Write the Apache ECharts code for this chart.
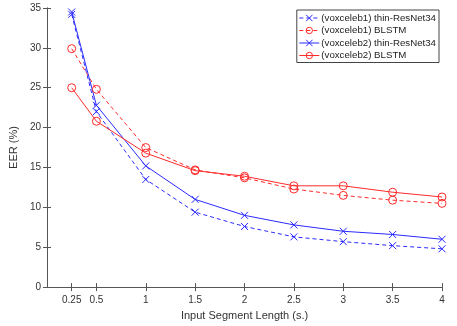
<!DOCTYPE html>
<html><head><meta charset="utf-8">
<script src="https://cdn.jsdelivr.net/npm/echarts@6/dist/echarts.min.js"></script>
<style>html,body{margin:0;padding:0;background:#fff}#c{width:457px;height:326px}</style>
</head><body><div id="c"></div>
<script>
const xValues = [0.25, 0.5, 1, 1.5, 2, 2.5, 3, 3.5, 4];
const xTickLabels = [0.25, 0.5, 1, 1.5, 2, 2.5, 3, 3.5, 4];
const yTicks = [0, 5, 10, 15, 20, 25, 30, 35];
const seriesNames = ['(voxceleb1) thin-ResNet34', '(voxceleb1) BLSTM', '(voxceleb2) thin-ResNet34', '(voxceleb2) BLSTM'];
const vox1Resnet = [34.2, 22.0, 13.5, 9.4, 7.6, 6.3, 5.7, 5.2, 4.8];
const vox1Blstm  = [29.9, 24.8, 17.5, 14.7, 13.7, 12.3, 11.5, 10.9, 10.5];
const vox2Resnet = [34.5, 22.8, 15.2, 11.0, 9.0, 7.8, 7.0, 6.6, 6.0];
const vox2Blstm  = [25.0, 20.8, 16.8, 14.6, 13.9, 12.7, 12.7, 11.9, 11.3];

const BLUE = '#2b2bff', RED = '#ff2b2b';
const CROSS = 'path://M0,0L10,10M10,0L0,10';
const pairs = a => xValues.map((x, i) => [x, a[i]]);
function mk(name, data, color, dashed, cross) {
  return {
    name, type: 'line', data: pairs(data), xAxisIndex: 0, yAxisIndex: 0,
    symbol: cross ? CROSS : 'circle', symbolSize: cross ? 7 : 8,
    lineStyle: { color, width: 1, type: dashed ? [4, 3] : 'solid' },
    itemStyle: { color: 'rgba(0,0,0,0)', borderColor: color, borderWidth: 1 },
    emphasis: { disabled: true }, animation: false
  };
}
const font = 'Liberation Sans, Arial, sans-serif';
const chart = echarts.init(document.getElementById('c'), null, { renderer: 'canvas' });
chart.setOption({
  backgroundColor: '#fff',
  animation: false,
  grid: { left: 34, right: 15, top: 8, bottom: 32 },
  legend: {
    data: seriesNames, orient: 'vertical', right: 18, top: 10,
    itemWidth: 20, itemHeight: 8, itemGap: 2.5, padding: [3, 3, 2, 2],
    backgroundColor: '#fff', borderColor: '#444', borderWidth: 1, borderRadius: 0,
    lineStyle: { width: 1 },
    itemStyle: { borderWidth: 1 },
    textStyle: { fontFamily: font, fontSize: 9.7, color: '#222', padding: [0, 0, 0, -3] }
  },
  xAxis: [{
    type: 'value', min: 0, max: 4, position: 'bottom',
    name: 'Input Segment Length (s.)', nameLocation: 'middle', nameGap: 18,
    nameTextStyle: { fontFamily: font, fontSize: 11, color: '#333' },
    axisLine: { lineStyle: { color: '#555', width: 1 } },
    axisTick: { inside: true, length: 4, customValues: xTickLabels, lineStyle: { color: '#555' } },
    axisLabel: { customValues: xTickLabels, fontFamily: font, fontSize: 10, color: '#333', margin: 8 },
    splitLine: { show: false }
  }, {
    type: 'value', min: 0, max: 4, position: 'top',
    axisLine: { lineStyle: { color: '#555', width: 1 } },
    axisTick: { inside: true, length: 4, customValues: xTickLabels, lineStyle: { color: '#555' } },
    axisLabel: { show: false }, splitLine: { show: false }
  }],
  yAxis: [{
    type: 'value', min: 0, max: 35, interval: 5, position: 'left',
    name: 'EER (%)', nameLocation: 'middle', nameGap: 21,
    nameTextStyle: { fontFamily: font, fontSize: 11, color: '#333' },
    axisLine: { show: true, lineStyle: { color: '#555', width: 1 } },
    axisTick: { show: true, inside: true, length: 4, lineStyle: { color: '#555' } },
    axisLabel: { fontFamily: font, fontSize: 10, color: '#333', margin: 6 },
    splitLine: { show: false }
  }, {
    type: 'value', min: 0, max: 35, interval: 5, position: 'right',
    axisLine: { show: true, lineStyle: { color: '#555', width: 1 } },
    axisTick: { show: true, inside: true, length: 4, lineStyle: { color: '#555' } },
    axisLabel: { show: false }, splitLine: { show: false }
  }],
  series: [
    mk(seriesNames[0], vox1Resnet, BLUE, true, true),
    mk(seriesNames[1], vox1Blstm, RED, true, false),
    mk(seriesNames[2], vox2Resnet, BLUE, false, true),
    mk(seriesNames[3], vox2Blstm, RED, false, false)
  ]
});
</script></body></html>
